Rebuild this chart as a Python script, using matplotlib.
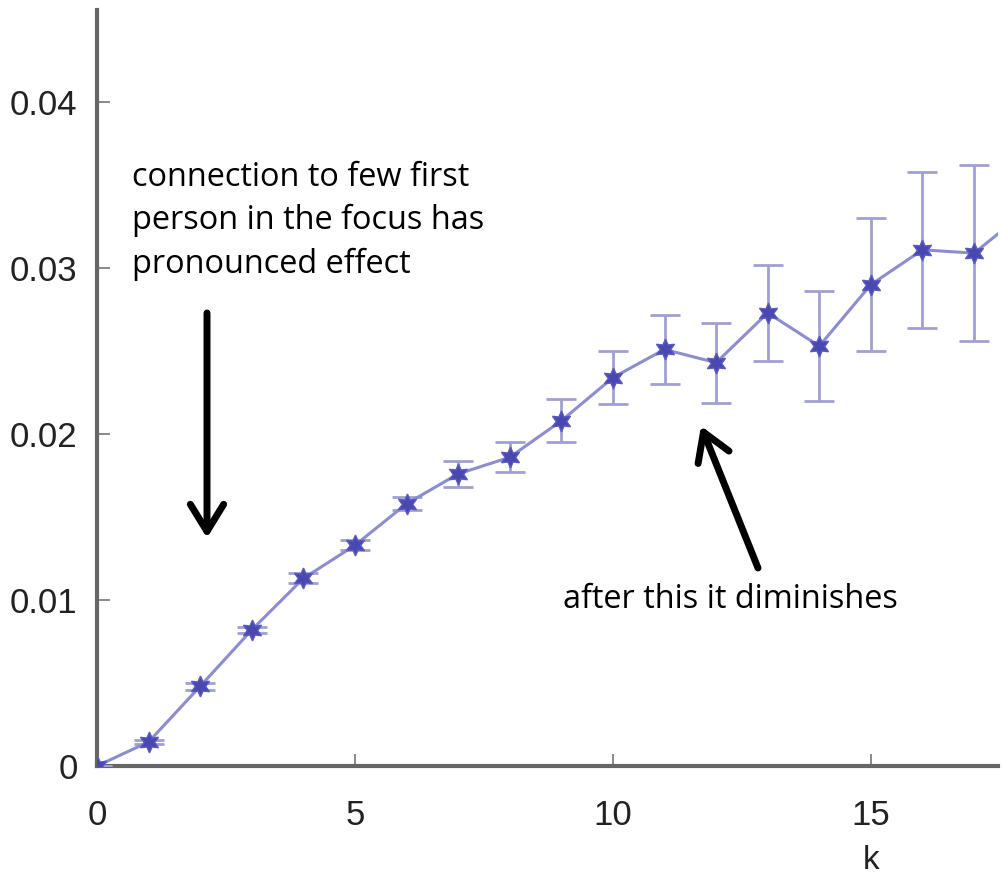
import matplotlib.pyplot as plt
from matplotlib.patches import FancyArrowPatch
import numpy as np

k = np.arange(19)
mean = [0.0, 0.00145, 0.0048, 0.0082, 0.0113, 0.0133, 0.0158, 0.0176, 0.0186,
        0.0208, 0.0234, 0.0251, 0.0243, 0.0273, 0.0253, 0.0290, 0.0311, 0.0309, 0.0334]
err = [0.0, 0.0001, 0.0002, 0.0002, 0.0003, 0.0003, 0.0004, 0.0008, 0.0009,
       0.0013, 0.0016, 0.0021, 0.0024, 0.0029, 0.0033, 0.0040, 0.0047, 0.0053, 0.0055]
xticks = [0, 5, 10, 15]
yticks = [0, 0.01, 0.02, 0.03, 0.04]
ylabels = ["0", "0.01", "0.02", "0.03", "0.04"]

tick_font = ["Liberation Sans", "DejaVu Sans"]
note_font = ["Open Sans", "DejaVu Sans"]

fig = plt.figure(figsize=(10.02, 8.84), dpi=100)
ax = fig.add_axes([0.0968, 0.1335, 0.899, 0.855])

ax.errorbar(k, mean, yerr=err, color="#8c8cd0", lw=2.2, ecolor="#a0a0d2",
            elinewidth=2.0, capsize=11, capthick=2.0, marker=(6, 1, 0),
            markersize=15, markerfacecolor="#4848b0", markeredgecolor="#5a5ac0",
            zorder=3)

ax.set_xlim(0, 17.46)
ax.set_ylim(0, 0.04554)
ax.set_xticks(xticks)
ax.set_yticks(yticks)
ax.set_xticklabels([str(t) for t in xticks], family=tick_font, fontsize=25, color="#222222")
ax.set_yticklabels(ylabels, family=tick_font, fontsize=25, color="#222222")
ax.tick_params(direction="in", length=9, width=1.2, color="#777777", pad=14)
ax.tick_params(axis="x", pad=24)

for s in ["top", "right"]:
    ax.spines[s].set_visible(False)
for s in ["left", "bottom"]:
    ax.spines[s].set_color("#666666")
    ax.spines[s].set_linewidth(3)

ax.set_xlabel("k", family=tick_font, fontsize=24, color="#222222")
ax.xaxis.set_label_coords(15 / 17.46, -0.105)

fig.text(0.132, 0.818,
         "connection to few first\nperson in the focus has\npronounced effect",
         family=note_font, fontsize=23.4, va="top", ha="left", linespacing=1.4)
fig.text(0.562, 0.322, "after this it diminishes", family=note_font, fontsize=23.4,
         va="center", ha="left")

for start, end in [((207, 313), (207, 538)), ((758, 568), (701, 426))]:
    fig.patches.append(FancyArrowPatch(
        (start[0] / 1002, 1 - start[1] / 884), (end[0] / 1002, 1 - end[1] / 884),
        transform=fig.transFigure, arrowstyle="->,head_length=0.65,head_width=0.4",
        mutation_scale=30, lw=5, color="black", capstyle="round",
        joinstyle="round", shrinkA=0, shrinkB=0))

fig.savefig("out.png", dpi=100)
